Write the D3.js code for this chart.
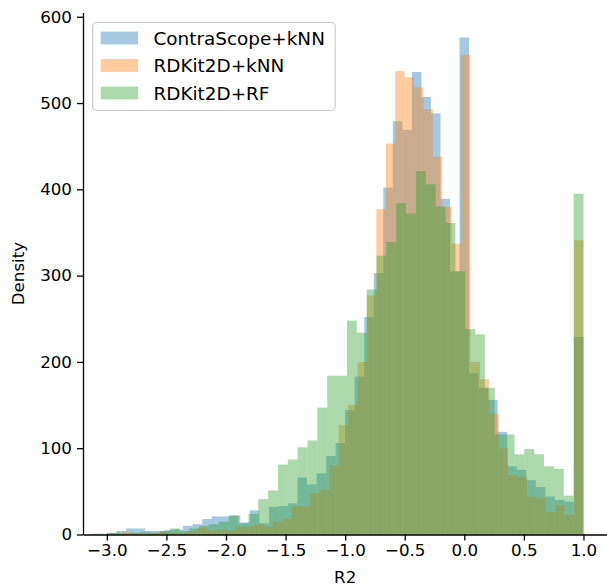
<!DOCTYPE html>
<html>
<head>
<meta charset="utf-8">
<script src="https://cdn.jsdelivr.net/npm/d3@7"></script>
<style>
  html, body { margin: 0; padding: 0; background: #fff; }
  svg { display: block; font-family: "DejaVu Sans", sans-serif; }
</style>
</head>
<body>
<svg id="chart" width="607" height="588"></svg>
<script>
// ---- data ----
const seriesNames = ["ContraScope+kNN", "RDKit2D+kNN", "RDKit2D+RF"];
const seriesColors = ["#1f77b4", "#ff7f0e", "#2ca02c"];
// histogram bin layout (start of first bin, bin width), 50 bins each
const binStarts = [-3.0, -2.95, -3.135];
const binWidths = [0.08, 0.079, 0.0827];

const contraScopeKNN = [
  2, 4, 7, 7, 4, 4, 5, 6, 10, 12,
  18, 21, 21, 22, 14, 28, 13, 32, 33, 36,
  66, 58, 71, 91, 106, 144, 183, 252, 303, 402,
  479, 469, 536, 507, 488, 389, 305, 576, 187, 170,
  156, 119, 79, 75, 63, 55, 44, 40, 38, 229
];
const rdkitKNN = [
  1, 3, 2, 1, 2, 3, 2, 2, 4, 8,
  5, 6, 5, 9, 9, 12, 9, 15, 18, 33,
  33, 48, 52, 80, 127, 150, 200, 277, 377, 453,
  537, 530, 518, 493, 438, 380, 337, 556, 200, 180,
  140, 100, 69, 67, 44, 42, 26, 34, 23, 341
];
const rdkitRF = [
  1, 1, 2, 1, 2, 3, 2, 4, 7, 4,
  7, 10, 12, 15, 22, 13, 24, 41, 51, 81,
  87, 101, 109, 147, 184, 184, 248, 234, 284, 323,
  339, 384, 372, 421, 406, 380, 361, 305, 238, 232,
  170, 116, 116, 93, 99, 93, 79, 76, 45, 395
];
const seriesValues = [contraScopeKNN, rdkitKNN, rdkitRF];

const xTicks = [-3.0, -2.5, -2.0, -1.5, -1.0, -0.5, 0.0, 0.5, 1.0];
const yTicks = [0, 100, 200, 300, 400, 500, 600];
const xLabel = "R2";
const yLabel = "Density";

// ---- layout ----
const svg = d3.select("#chart");
const plotLeft = 83, plotRight = 607.3, plotTop = 12.6, plotBottom = 534.5;

const x = d3.scaleLinear().domain([-3.2, 1.2]).range([plotLeft, plotRight]);
const y = d3.scaleLinear().domain([0, 604.8]).range([plotBottom, plotTop]);

// bars
seriesValues.forEach((vals, si) => {
  const bins = vals.map((v, i) => ({
    x0: binStarts[si] + i * binWidths[si],
    x1: binStarts[si] + (i + 1) * binWidths[si],
    v: v
  }));
  svg.append("g")
    .selectAll("rect")
    .data(bins)
    .join("rect")
    .attr("x", d => x(d.x0))
    .attr("width", d => x(d.x1) - x(d.x0))
    .attr("y", d => y(d.v))
    .attr("height", d => y(0) - y(d.v))
    .attr("fill", seriesColors[si])
    .attr("fill-opacity", 0.4);
});

// axes
const fmtX = d3.format(".1f");
const xAxis = d3.axisBottom(x).tickValues(xTicks).tickFormat(fmtX)
  .tickSize(6).tickSizeOuter(0).tickPadding(4);
const yAxis = d3.axisLeft(y).tickValues(yTicks).tickFormat(d3.format("d"))
  .tickSize(6).tickSizeOuter(0).tickPadding(5);

const gx = svg.append("g").attr("transform", `translate(0,${plotBottom})`).call(xAxis);
const gy = svg.append("g").attr("transform", `translate(${plotLeft},0)`).call(yAxis);

[gx, gy].forEach(g => {
  g.select(".domain").attr("stroke", "#000").attr("stroke-width", 1.3);
  g.selectAll(".tick line").attr("stroke", "#000").attr("stroke-width", 1.3);
  g.selectAll(".tick text").attr("fill", "#000").attr("font-size", "16.7px")
    .attr("font-family", "DejaVu Sans, sans-serif");
});

// axis labels
svg.append("text")
  .attr("x", (plotLeft + plotRight) / 2)
  .attr("y", 583)
  .attr("text-anchor", "middle")
  .attr("font-size", "16.7px")
  .attr("fill", "#000")
  .text(xLabel);

svg.append("text")
  .attr("transform", `translate(24,${(plotTop + plotBottom) / 2}) rotate(-90)`)
  .attr("text-anchor", "middle")
  .attr("font-size", "16.7px")
  .attr("fill", "#000")
  .text(yLabel);

// legend
const legend = svg.append("g");
legend.append("rect")
  .attr("x", 92.7).attr("y", 22.5)
  .attr("width", 242.5).attr("height", 88)
  .attr("rx", 4).attr("ry", 4)
  .attr("fill", "#fff").attr("fill-opacity", 0.8)
  .attr("stroke", "#cccccc").attr("stroke-width", 1.2);

seriesNames.forEach((name, i) => {
  const cy = 38 + i * 27.5;
  legend.append("rect")
    .attr("x", 100.7).attr("y", cy - 6.4)
    .attr("width", 37.4).attr("height", 12.8)
    .attr("fill", seriesColors[i]).attr("fill-opacity", 0.4);
  legend.append("text")
    .attr("x", 153.5).attr("y", cy + 6.6)
    .attr("font-size", "18.4px")
    .attr("fill", "#000")
    .text(name);
});
</script>
</body>
</html>
